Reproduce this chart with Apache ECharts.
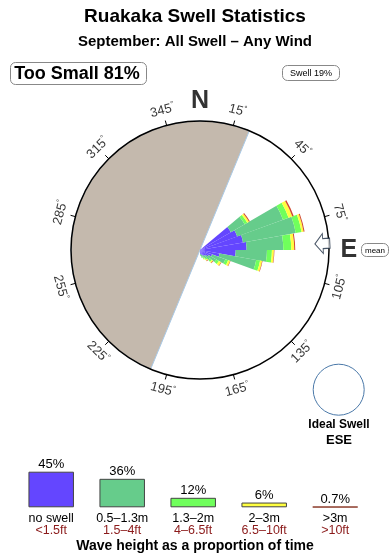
<!DOCTYPE html>
<html><head><meta charset="utf-8">
<script src="https://cdn.jsdelivr.net/npm/echarts@6/dist/echarts.min.js"></script>
<style>html,body{margin:0;padding:0;background:#fff}#c{width:390px;height:560px}</style>
</head><body><div id="c"></div>
<script>
const FONT = '"Liberation Sans", Arial, Helvetica, sans-serif';

// ---- Rose data: 10° direction sectors (start bearing), stacked by wave height ----
const directions = ['0','10','20','30','40','50','60','70','80','90','100','110','120','130','140','150','160','170',
                    '180','190','200','210','220','230','240','250','260','270','280','290','300','310','320','330','340','350'];
const noSwell = [0,0,0,0,0, 3.6,4.0,4.4,4.7,3.6,2.0,1.3,1.0,0.8,0.7,0.6,0.5,0.4, 0,0,0,0,0,0,0,0,0,0,0,0,0,0,0,0,0,0];
const h05_13  = [0,0,0,0,0, 1.6,4.9,5.4,3.7,3.15,3.75,1.42,0.9,0.5,0.3,0.25,0.2,0.15, 0,0,0,0,0,0,0,0,0,0,0,0,0,0,0,0,0,0];
const h13_2   = [0,0,0,0,0, 0.3,0.6,0.6,0.8,0.5,0.4,0.3,0.3,0.25,0.15,0.1,0.1,0.05, 0,0,0,0,0,0,0,0,0,0,0,0,0,0,0,0,0,0];
const h2_3    = [0,0,0,0,0, 0.2,0.4,0.2,0.3,0.2,0.2,0.2,0.25,0.15,0.1,0.1,0,0, 0,0,0,0,0,0,0,0,0,0,0,0,0,0,0,0,0,0];
const h3plus  = [0,0,0,0,0, 0.1,0.15,0.1,0.1,0.05,0.05,0.05,0.05,0.05,0.05,0,0,0, 0,0,0,0,0,0,0,0,0,0,0,0,0,0,0,0,0,0];
const roseMax = 13;

// land (shadowed) half of the rose: from bearing landFrom, clockwise for landSpan degrees
const landFrom = 202.5;
const landSpan = 180;

const meanDirection = 87;
const degreeTicks = [15,45,75,105,135,165,195,225,255,285,315,345];
const compass = [['N',0],['E',90],['S',180],['W',270]];

// ---- Legend (proportion of time) ----
const heightNames = ['no swell','0.5–1.3m','1.3–2m','2–3m','>3m'];
const heightFeet  = ['<1.5ft','1.5–4ft','4–6.5ft','6.5–10ft','>10ft'];
const heightPct   = [45,36,12,6,0.7];
const bandColors  = ['#6446FF','#66CC8B','#70FF5C','#FFFF40','#D04A32'];
const legendBorders = ['#444','#444','#444','#444','#8B3A2A'];

const bands = [noSwell,h05_13,h13_2,h2_3,h3plus];
const C = [200,250], R = 129;

function rot(b){ return (b <= 90 || b >= 270) ? ((-b + 360 + 180) % 360) - 180 : 180 - b; }
const letterR = {N:0.993, E:0.993, S:1.01, W:1.05};

const chart = echarts.init(document.getElementById('c'));
chart.setOption({
  animation:false,
  textStyle:{fontFamily:FONT},
  title:[
    {text:'Ruakaka Swell Statistics', left:'center', top:7, padding:0,
     textStyle:{fontSize:19, fontWeight:'bold', color:'#000', fontFamily:FONT}},
    {text:'September: All Swell – Any Wind', left:'center', top:34, padding:0,
     textStyle:{fontSize:15, fontWeight:'bold', color:'#000', fontFamily:FONT}}
  ],
  polar:[{center:C, radius:R},{center:C, radius:R},{center:C, radius:150}],
  angleAxis:[
    {polarIndex:0, type:'category', data:directions, startAngle:90, clockwise:true, boundaryGap:true,
     axisLine:{show:false}, axisTick:{show:false}, axisLabel:{show:false}, splitLine:{show:false}},
    {polarIndex:1, type:'value', min:-15, max:345, interval:30, startAngle:105, clockwise:true, z:10,
     axisLine:{show:true, lineStyle:{color:'#000', width:1.5}},
     axisTick:{show:true, inside:false, length:5, lineStyle:{color:'#000', width:1}},
     axisLabel:{show:false}, splitLine:{show:false}},
    {polarIndex:2, type:'value', min:0, max:360, startAngle:90, clockwise:true,
     axisLine:{show:false}, axisTick:{show:false}, axisLabel:{show:false}, splitLine:{show:false}}
  ],
  radiusAxis:[
    {polarIndex:0, min:0, max:roseMax, show:false},
    {polarIndex:1, min:0, max:1, show:false},
    {polarIndex:2, min:0, max:1, show:false}
  ],
  grid:{left:15.7, width:355, top:471.7, height:35.6},
  xAxis:{type:'category', data:heightNames, axisLine:{show:false}, axisTick:{show:false},
    axisLabel:{interval:0, margin:5,
      formatter:(v,i)=>'{a|'+v+'}\n{b|'+heightFeet[i]+'}',
      rich:{a:{fontSize:12.5, color:'#000', lineHeight:12, fontFamily:FONT},
            b:{fontSize:12.5, color:'#8B1A1A', lineHeight:12, fontFamily:FONT}}}},
  yAxis:{type:'value', min:0, max:45, show:false},
  graphic:[
    {type:'group', children:[
      {type:'rect', shape:{x:10.5, y:62.5, width:136, height:22, r:5}, style:{fill:'#fff', stroke:'#888', lineWidth:1}},
      {type:'text', style:{text:'Too Small 81%', x:77, y:74, align:'center', verticalAlign:'middle', textAlign:'center', textVerticalAlign:'middle',
        fontSize:18, fontWeight:'bold', fontFamily:FONT, fill:'#000'}}
    ]},
    {type:'group', children:[
      {type:'rect', shape:{x:282.5, y:65.5, width:57, height:15, r:5}, style:{fill:'#fff', stroke:'#888', lineWidth:1}},
      {type:'text', style:{text:'Swell 19%', x:311, y:73.5, align:'center', verticalAlign:'middle', textAlign:'center', textVerticalAlign:'middle',
        fontSize:9, fontFamily:FONT, fill:'#000'}}
    ]},
    {type:'group', children:[
      {type:'rect', shape:{x:361.5, y:243.5, width:27, height:13, r:5}, style:{fill:'#fff', stroke:'#888', lineWidth:1}},
      {type:'text', style:{text:'mean', x:375, y:250.5, align:'center', verticalAlign:'middle', textAlign:'center', textVerticalAlign:'middle',
        fontSize:8, fontFamily:FONT, fill:'#000'}}
    ]},
    {type:'circle', shape:{cx:338.7, cy:389.7, r:25.5}, style:{fill:'none', stroke:'#4A78A8', lineWidth:1}},
    {type:'text', style:{text:'Ideal Swell', x:339, y:425, align:'center', verticalAlign:'middle', textAlign:'center', textVerticalAlign:'middle',
      fontSize:12, fontWeight:'bold', fontFamily:FONT, fill:'#000'}},
    {type:'text', style:{text:'ESE', x:339, y:440, align:'center', verticalAlign:'middle', textAlign:'center', textVerticalAlign:'middle',
      fontSize:13, fontWeight:'bold', fontFamily:FONT, fill:'#000'}},
    {type:'text', style:{text:'Wave height as a proportion of time', x:195, y:546.5, align:'center', verticalAlign:'middle', textAlign:'center', textVerticalAlign:'middle',
      fontSize:14, fontWeight:'bold', fontFamily:FONT, fill:'#000'}}
  ],
  series:[
    {type:'pie', center:C, radius:R, startAngle:(90 - landFrom + 360) % 360, clockwise:true, silent:true, z:1,
     label:{show:false}, labelLine:{show:false}, emphasis:{disabled:true},
     data:[{value:landSpan, itemStyle:{color:'#C4B9AD', borderColor:'#A9C9E6', borderWidth:1}},
           {value:360-landSpan, itemStyle:{color:'rgba(0,0,0,0)', borderWidth:0}}]},
    ...bands.map((d,i)=>({type:'bar', coordinateSystem:'polar', polarIndex:0, stack:'rose', data:d,
      barWidth:'100%', barCategoryGap:'0%', barGap:'0%', silent:true, z:3, itemStyle:{color:bandColors[i]}})),
    {type:'scatter', coordinateSystem:'polar', polarIndex:1, silent:true, z:12,
     data:[[0.95, meanDirection]],
     symbol:'path://M0,10 L8,0 L8,5 L15,5 L15,15 L8,15 L8,20 Z', symbolSize:[15,20], symbolRotate:90 - meanDirection,
     itemStyle:{color:'#fff', borderColor:'#1A2A40', borderWidth:1}},
    {type:'scatter', coordinateSystem:'polar', polarIndex:2, silent:true, symbolSize:0, z:12,
     data:degreeTicks.map(b=>({value:[0.963,b], label:{rotate:rot(b)}})),
     label:{show:true, position:'inside', formatter:p=>'{n|'+p.value[1]+'}{d|°}',
       rich:{n:{fontSize:13, color:'#000', fontFamily:FONT}, d:{fontSize:8, color:'#000', padding:[0,0,7,0], fontFamily:FONT}}}},
    {type:'scatter', coordinateSystem:'polar', polarIndex:2, silent:true, symbolSize:0, z:12,
     data:compass.map(c=>({name:c[0], value:[letterR[c[0]], c[1]]})),
     label:{show:true, position:'inside', formatter:p=>p.name, fontSize:25, fontWeight:'bold', color:'#000', fontFamily:FONT}},
    {type:'bar', data:heightPct.map((v,i)=>({value:v, itemStyle:{color:bandColors[i], borderColor:legendBorders[i]}})),
     barWidth:45.5, silent:true, itemStyle:{borderWidth:1},
     label:{show:true, position:'top', distance:1, formatter:'{c}%', fontSize:13, color:'#000', fontFamily:FONT}}
  ]
});
</script></body></html>
